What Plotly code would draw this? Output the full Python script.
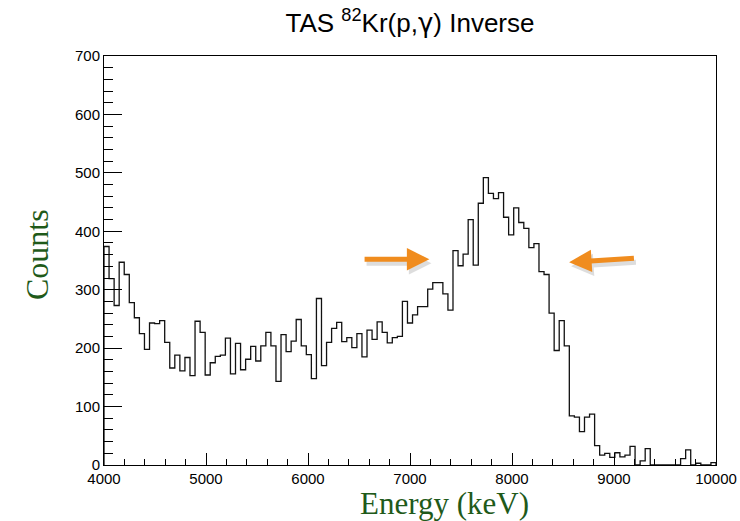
import numpy as np
import plotly.graph_objects as go

# ---- data (counts per bin) ----
x_min, x_max = 4000, 10000
counts_low = [374, 319, 273, 347, 326, 278, 252, 225, 198, 243,
              242, 247, 210, 166, 188, 161, 184, 153, 246, 227,
              154, 175, 186, 188, 217, 156, 208, 163, 181, 203,
              178, 204, 227, 204, 143, 223, 194, 212, 249, 204,
              189, 148, 285, 170, 210, 234, 244, 211, 218, 201,
              225, 185, 231, 215, 245, 227, 209, 218, 220, 280,
              243, 257, 271, 271, 301, 312, 312, 293, 265, 367,
              341, 361, 420, 342, 448, 492, 465, 456, 466, 424,
              394, 440, 415, 405, 372, 379, 331, 326, 260, 196,
              247, 204]
counts_tail = [84, 82, 57, 82, 87, 33, 17, 20, 13, 21, 14, 17, 32, 0, 7, 28,
               0, 0, 0, 0, 0, 0, 11, 26, 0, 3, 0, 0, 4]
counts = counts_low + counts_tail

x_ticks = [4000, 5000, 6000, 7000, 8000, 9000, 10000]
x_tick_labels = ["4000", "5000", "6000", "7000", "8000", "9000", "10000"]
y_ticks = [0, 100, 200, 300, 400, 500, 600, 700]
y_tick_labels = ["0", "100", "200", "300", "400", "500", "600", "700"]

# arrows: (head_x, head_y, tail_x, tail_y) in data units
arrow_right = (7190, 352, 6540, 352)
arrow_left = (8560, 347, 9210, 354)

# ---- build step outline ----
n = len(counts)
edges = np.linspace(x_min, x_max, n + 1)
xs = [edges[0]] + list(edges[:-1]) + [edges[-1], edges[-1]]
ys = [0] + counts + [counts[-1], 0]

fig = go.Figure()
fig.add_trace(go.Scatter(x=xs, y=ys, mode="lines", line_shape="hv",
                         line=dict(color="#111111", width=1.3),
                         hoverinfo="skip", showlegend=False, cliponaxis=False))

orange = "#F08C1E"
for (hx, hy, tx, ty) in (arrow_right, arrow_left):
    # soft shadow
    fig.add_annotation(x=hx, y=hy, ax=tx, ay=ty, xref="x", yref="y",
                       axref="x", ayref="y", showarrow=True, arrowhead=2,
                       arrowsize=0.9, arrowwidth=5,
                       arrowcolor="rgba(0,0,0,0.13)", text="",
                       xshift=2, yshift=-4)
    fig.add_annotation(x=hx, y=hy, ax=tx, ay=ty, xref="x", yref="y",
                       axref="x", ayref="y", showarrow=True, arrowhead=2,
                       arrowsize=0.9, arrowwidth=5, arrowcolor=orange, text="")

green = "#1F5A1A"
fig.add_annotation(text="Energy (keV)", xref="paper", yref="paper",
                   x=(444 - 104) / 612, y=-(503 - 465) / 409,
                   showarrow=False, xanchor="center", yanchor="middle",
                   font=dict(family="Liberation Serif", size=31, color=green))
fig.add_annotation(text="Counts", xref="paper", yref="paper",
                   x=-(104 - 37) / 612, y=(465 - 255) / 409, textangle=-90,
                   showarrow=False, xanchor="center", yanchor="middle",
                   font=dict(family="Liberation Serif", size=32, color=green))

fig.update_layout(
    width=740, height=521,
    margin=dict(l=104, r=24, t=56, b=56),
    paper_bgcolor="white", plot_bgcolor="white",
    title=dict(text="TAS <sup>82</sup>Kr(p,<span style=\"font-family:'DejaVu Sans'\">γ</span>) Inverse",
               x=410 / 740, xanchor="center", y=1 - 23 / 521, yanchor="middle",
               font=dict(family="Liberation Sans", size=26, color="black")),
    font=dict(family="Liberation Sans", size=15, color="black"),
)
fig.update_xaxes(range=[x_min, x_max], tickvals=x_ticks, ticktext=x_tick_labels,
                 automargin=False,
                 ticks="inside", ticklen=12, tickcolor="black", tickwidth=1,
                 showline=True, linecolor="black", linewidth=1, mirror=True,
                 showgrid=False, zeroline=False,
                 minor=dict(ticks="inside", ticklen=6, dtick=200,
                            tickcolor="black", showgrid=False),
                 tickfont=dict(family="Liberation Sans", size=15))
fig.update_yaxes(range=[0, 700], tickvals=y_ticks, ticktext=y_tick_labels,
                 automargin=False,
                 ticks="inside", ticklen=18, tickcolor="black", tickwidth=1,
                 showline=True, linecolor="black", linewidth=1, mirror=True,
                 showgrid=False, zeroline=False,
                 minor=dict(ticks="inside", ticklen=9, dtick=20,
                            tickcolor="black", showgrid=False),
                 tickfont=dict(family="Liberation Sans", size=15))

fig.write_html("out.html")
